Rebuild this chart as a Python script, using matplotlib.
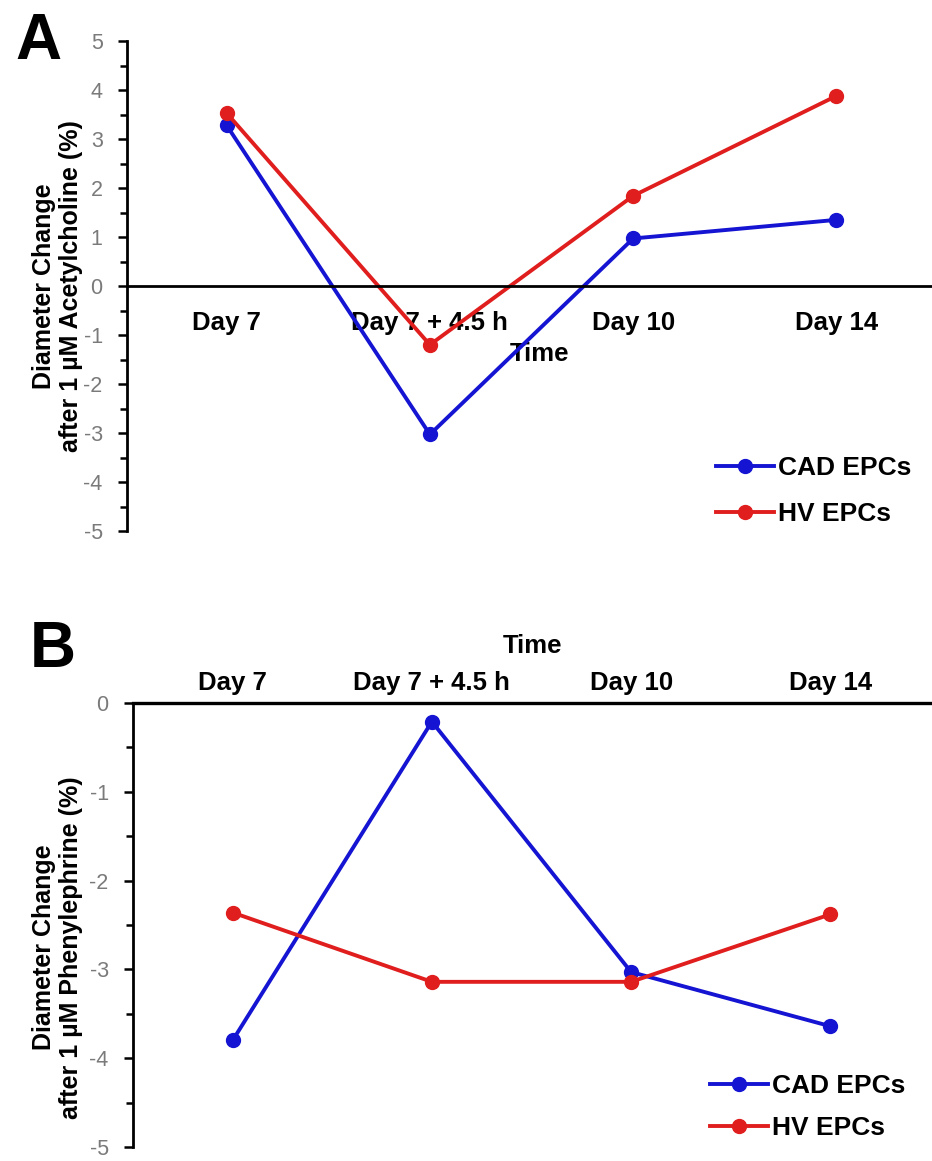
import matplotlib as mpl
mpl.use('Agg')
import matplotlib.pyplot as plt
from matplotlib.ticker import MultipleLocator

plt.rcParams['font.family'] = ['Liberation Sans', 'DejaVu Sans']
plt.rcParams['axes.unicode_minus'] = False

days = ['Day 7', 'Day 7 + 4.5 h', 'Day 10', 'Day 14']

# panel A: acetylcholine
ach_cad = [3.28, -3.03, 0.97, 1.35]
ach_hv = [3.53, -1.20, 1.84, 3.88]

# panel B: phenylephrine
phe_cad = [-3.80, -0.21, -3.03, -3.64]
phe_hv = [-2.36, -3.14, -3.14, -2.38]

blue = '#1414d2'
red = '#e01e1e'
gray = '#7a7a7a'

W, H = 932, 1161
fig = plt.figure(figsize=(W / 100, H / 100), dpi=100)


def box(left, top, right, bottom):
    return [left / W, 1 - bottom / H, (right - left) / W, (bottom - top) / H]


def style_y(ax):
    ax.yaxis.set_major_locator(MultipleLocator(1))
    ax.yaxis.set_minor_locator(MultipleLocator(0.5))
    ax.tick_params(axis='y', which='major', length=6.5, width=1.8,
                   labelsize=15.5, labelcolor=gray, pad=11)
    ax.tick_params(axis='y', which='minor', length=5, width=1.8)
    ax.spines['left'].set_linewidth(2)
    ax.spines['right'].set_visible(False)


def draw(ax, cad, hv):
    x = range(len(days))
    ax.plot(x, cad, '-o', color=blue, lw=2.8, ms=10, label='CAD EPCs', clip_on=False)
    ax.plot(x, hv, '-o', color=red, lw=2.8, ms=10, label='HV EPCs', clip_on=False)


def cats(ax):
    ax.set_xticks(range(len(days)))
    ax.set_xticklabels(days, fontsize=18.5, fontweight='bold')


leg_kw = dict(bbox_transform=fig.transFigure, frameon=False,
              prop={'weight': 'bold', 'size': 19}, handlelength=2.2,
              handletextpad=0.15, borderpad=0, loc='center left')

# ---- A ----
axA = fig.add_axes(box(127, 41, 932, 531))
draw(axA, ach_cad, ach_hv)
axA.set_xlim(-0.49, 3.47)
axA.set_ylim(-5, 5)
style_y(axA)
axA.spines['top'].set_visible(False)
axA.spines['bottom'].set_position(('data', 0))
axA.spines['bottom'].set_linewidth(2)
cats(axA)
axA.tick_params(axis='x', length=0, pad=18)
axA.set_xlabel('Time', fontsize=18.5, fontweight='bold')
axA.xaxis.set_label_coords((540 - 127) / 805, (531 - 342) / 490)
axA.xaxis.label.set_va('top')
axA.set_ylabel('Diameter Change\nafter 1 \u00b5M Acetylcholine (%)', fontsize=18,
               fontweight='bold', linespacing=1.15)
axA.yaxis.set_label_coords(-0.055, 0.5)
axA.legend(bbox_to_anchor=(703 / W, 1 - 491 / H), labelspacing=0.85, **leg_kw)

# ---- B ----
axB = fig.add_axes(box(133, 703, 932, 1147))
draw(axB, phe_cad, phe_hv)
axB.set_xlim(-0.5, 3.51)
axB.set_ylim(-5, 0)
style_y(axB)
axB.spines['bottom'].set_visible(False)
axB.spines['top'].set_linewidth(2.4)
axB.xaxis.tick_top()
axB.xaxis.set_label_position('top')
cats(axB)
axB.tick_params(axis='x', length=0, pad=6)
axB.set_xlabel('Time', fontsize=18.5, fontweight='bold', labelpad=13)
axB.set_ylabel('Diameter Change\nafter 1 \u00b5M Phenylephrine (%)', fontsize=18,
               fontweight='bold', linespacing=1.15)
axB.yaxis.set_label_coords(-0.063, 0.45)
axB.legend(bbox_to_anchor=(697 / W, 1 - 1107 / H), labelspacing=0.7, **leg_kw)

fig.text(15 / W, 1 - 42 / H, 'A', fontsize=46, fontweight='bold', va='center')
fig.text(30 / W, 1 - 650 / H, 'B', fontsize=46, fontweight='bold', va='center')

fig.savefig('out.png', dpi=100)
